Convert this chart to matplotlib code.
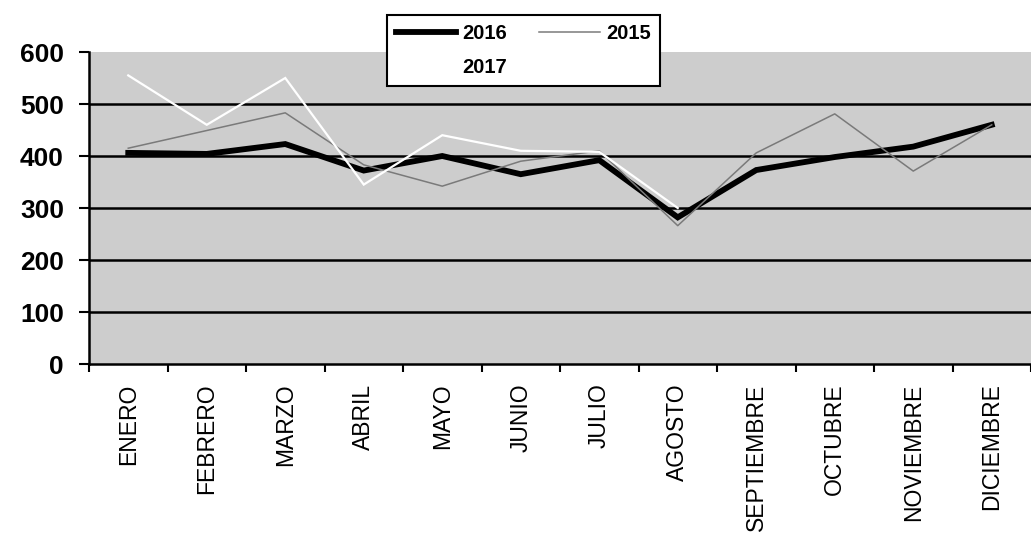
import numpy as np
import matplotlib
matplotlib.use("Agg")
import matplotlib.pyplot as plt

months = ["ENERO", "FEBRERO", "MARZO", "ABRIL", "MAYO", "JUNIO", "JULIO",
          "AGOSTO", "SEPTIEMBRE", "OCTUBRE", "NOVIEMBRE", "DICIEMBRE"]
s2016 = [406, 404, 423, 372, 400, 365, 392, 282, 373, 398, 418, 460]
s2015 = [415, 449, 483, 383, 342, 390, 410, 266, 406, 481, 371, 460]
s2017 = [555, 460, 550, 345, 440, 410, 408, 300, np.nan, np.nan, np.nan, np.nan]
yticks = [0, 100, 200, 300, 400, 500, 600]

plt.rcParams['font.family'] = ['Liberation Sans', 'DejaVu Sans']

fig = plt.figure(figsize=(10.31, 5.33), dpi=100)
ax = fig.add_axes([89/1031, 1-364/533, 1-89/1031, (364-52)/533])
ax.set_facecolor('#cdcdcd')

x = np.arange(len(months))
l17, = ax.plot(x, s2017, color='white', lw=1.6, zorder=5, solid_joinstyle='miter')
l15, = ax.plot(x, s2015, color='#7a7a7a', lw=1.1, zorder=4)
l16, = ax.plot(x, s2016, color='black', lw=4.2, zorder=3, solid_joinstyle='miter')

ax.set_ylim(0, 600)
ax.set_xlim(-0.5, 11.42)
ax.set_yticks(yticks)
ax.set_yticklabels([str(v) for v in yticks], fontsize=19, fontweight='bold')
for v in yticks[1:-1]:
    ax.axhline(v, color='black', lw=1.8, zorder=2)

ax.set_xticks(x)
ax.set_xticklabels(months, rotation=90, fontsize=16.5)
ax.set_xticks(np.arange(-0.5, 11.6, 1), minor=True)
ax.tick_params(axis='x', which='major', length=0, pad=14)
ax.tick_params(axis='x', which='minor', length=6, width=1.5, direction='out')
ax.tick_params(axis='y', length=7, width=1.5, direction='out', pad=11)

for s in ['top', 'right']:
    ax.spines[s].set_visible(False)
ax.spines['left'].set_linewidth(1.8)
ax.spines['bottom'].set_linewidth(1.8)

leg = fig.legend([l16, l17, l15], ['2016', '2017', '2015'], ncol=2,
                 loc='upper left', bbox_to_anchor=(387/1031, 1-15/533),
                 frameon=True, fancybox=False, edgecolor='black', framealpha=1,
                 facecolor='white',
                 prop={'size': 14.5, 'weight': 'bold'}, handlelength=3.0,
                 handletextpad=0.3, columnspacing=1.6, borderpad=0.45,
                 labelspacing=0.75, borderaxespad=0)
leg.get_frame().set_linewidth(1.5)
leg.set_zorder(10)

fig.savefig('out.png', dpi=100)
